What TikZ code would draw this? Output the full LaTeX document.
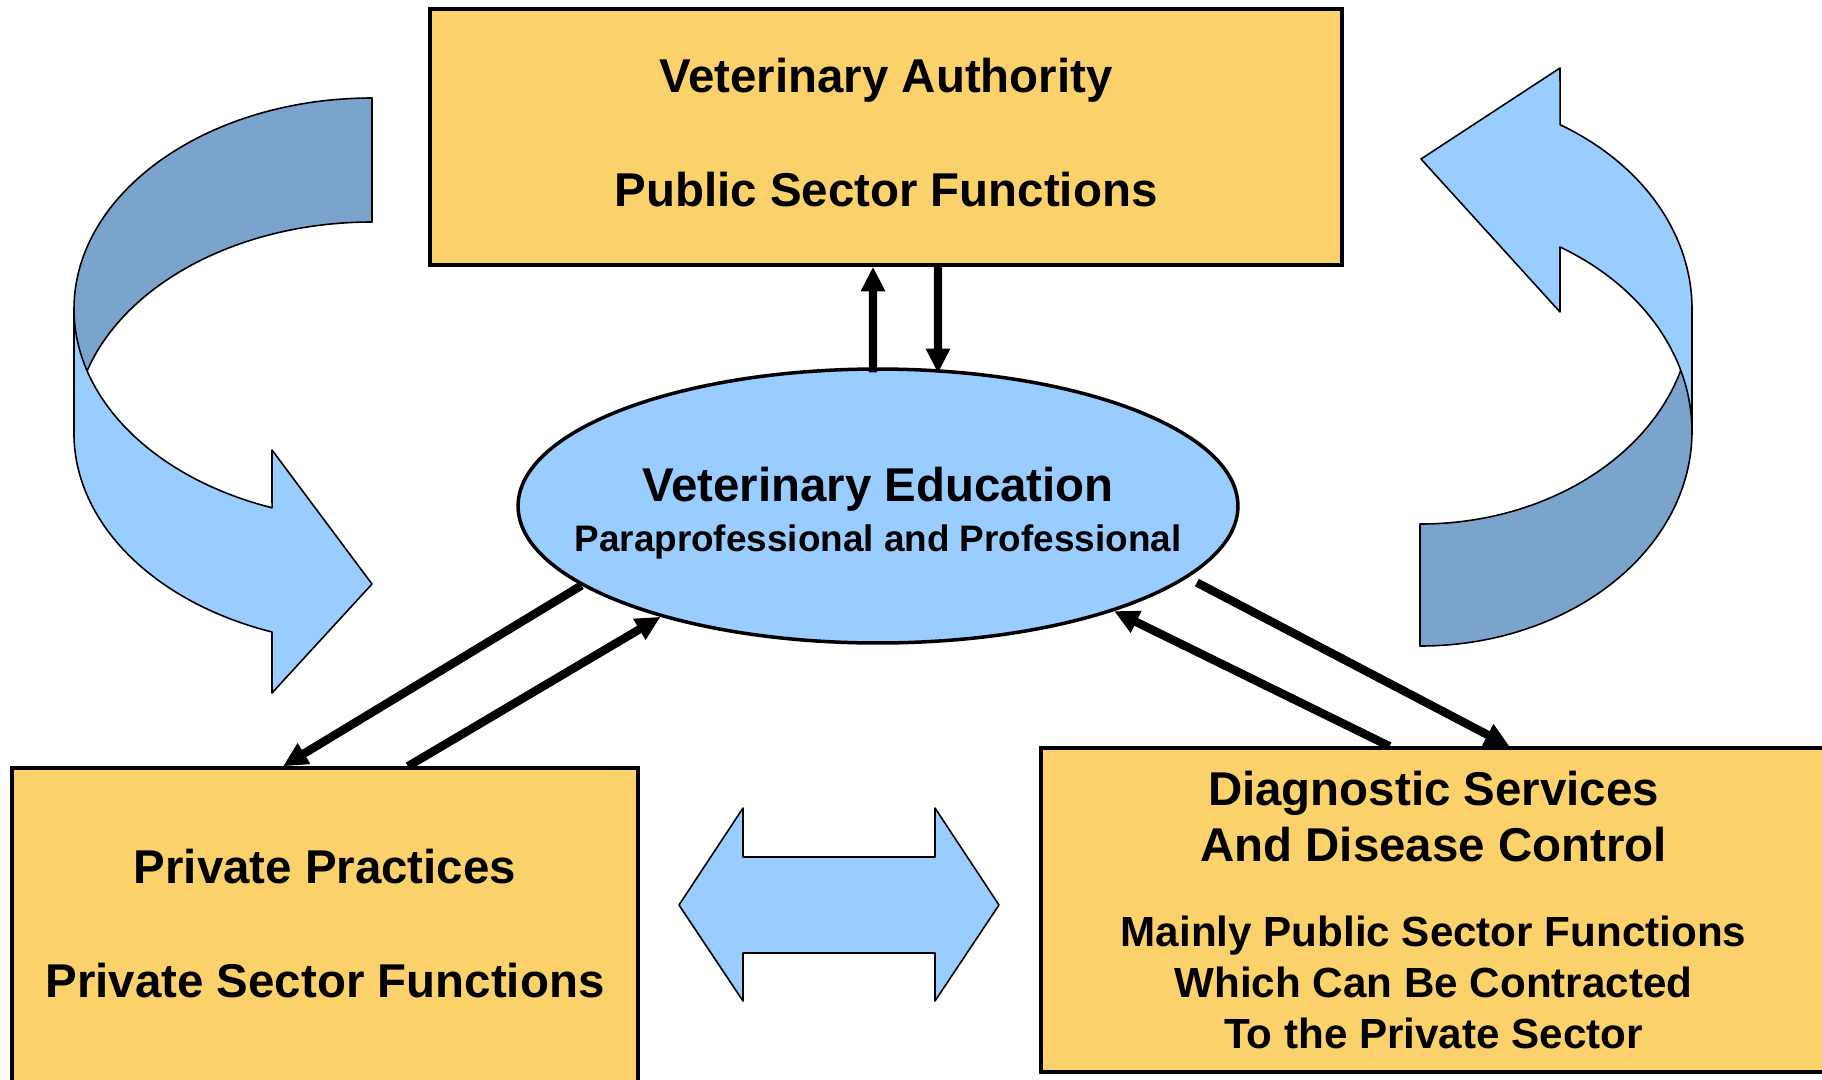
\documentclass[tikz,border=0pt]{standalone}
\usepackage{fontspec}
\setmainfont{Liberation Sans}
\usetikzlibrary{shapes.geometric,arrows.meta}

\definecolor{boxfill}{RGB}{251,209,107}
\definecolor{skyblue}{RGB}{153,204,255}
\definecolor{steelblue}{RGB}{123,164,204}

\begin{document}
\begin{tikzpicture}[x=0.02cm, y=-0.02cm,
    box/.style={draw, line width=2pt, fill=boxfill, align=center,
                font=\bfseries\fontsize{27}{64.7}\selectfont},
    link/.style={line width=4.8pt, -{Triangle[length=14pt, width=13pt]}},
    ribbon/.style={draw, line width=0.9pt, line join=round}]

  \useasboundingbox (0,0) rectangle (1822,1079);
  \clip (0,0) rectangle (1822,1079);

  % left ribbon arrow: back half, then front half with the head
  \path[ribbon, fill=steelblue]
      (372,98) arc[start angle=270, end angle=180, x radius=298, y radius=211]
      -- (74,433) arc[start angle=180, end angle=270, x radius=298, y radius=211] -- cycle;
  \path[ribbon, fill=skyblue]
      (74,309) arc[start angle=180, end angle=109.6, x radius=298, y radius=211]
      -- (272,450) -- (372,584) -- (272,693) -- (272,632)
      arc[start angle=109.6, end angle=180, x radius=298, y radius=211] -- cycle;

  % right ribbon arrow
  \path[ribbon, fill=steelblue]
      (1420,524) arc[start angle=90, end angle=0, x radius=272, y radius=215]
      -- (1692,431) arc[start angle=0, end angle=90, x radius=272, y radius=215] -- cycle;
  \path[ribbon, fill=skyblue]
      (1692,309) arc[start angle=0, end angle=-59, x radius=272, y radius=215]
      -- (1560,68) -- (1421,159) -- (1560,312) -- (1560,247)
      arc[start angle=-59, end angle=0, x radius=272, y radius=215] -- cycle;

  % double arrow between the two lower boxes
  \path[ribbon, fill=skyblue]
      (679,905) -- (743,808) -- (743,857) -- (935,857) -- (935,808) -- (999,905)
      -- (935,1001) -- (935,953) -- (743,953) -- (743,1001) -- cycle;

  \node[box, minimum width=18.24cm, minimum height=5.12cm, text depth=0.2cm] (VA) at (886,137)
      {Veterinary Authority\\Public Sector Functions};
  \node[box, minimum width=12.52cm, minimum height=6.4cm, text depth=0.2cm]  (PP) at (325,928)
      {Private Practices\\Private Sector Functions};
  \node[box, minimum width=15.7cm, minimum height=6.48cm,
        font=\bfseries\fontsize{27}{29.2}\selectfont]      (DS) at (1433.5,910)
      {Diagnostic Services\\[3pt]And Disease Control\\[19pt]
       {\fontsize{24}{29}\selectfont Mainly Public Sector Functions}\\
       {\fontsize{24}{29}\selectfont Which Can Be Contracted}\\
       {\fontsize{24}{29}\selectfont To the Private Sector}};

  \node[draw, ellipse, line width=2pt, fill=skyblue,
        minimum width=14.4cm, minimum height=5.48cm] (VE) at (878,506) {};
  \node[align=center, font=\bfseries\fontsize{27}{28.4}\selectfont] (VEtext) at (878,513)
      {Veterinary Education\\{\fontsize{21}{25}\selectfont Paraprofessional and Professional}};

  \path[link] ([xshift=-0.1cm, yshift=-0.1cm]VE.north) edge ([xshift=-0.26cm]VA.south)
              ([xshift=1.04cm]VA.south)  edge ([xshift=1.2cm, yshift=-0.12cm]VE.north)
              (VE.195)                   edge ([xshift=-0.84cm]PP.north)
              ([xshift=1.66cm]PP.north)  edge (VE.207)
              ([xshift=-0.88cm]DS.north) edge (VE.336)
              ([xshift=0.18cm, yshift=-0.1cm]VE.347) edge ([xshift=1.52cm]DS.north);
\end{tikzpicture}
\end{document}
